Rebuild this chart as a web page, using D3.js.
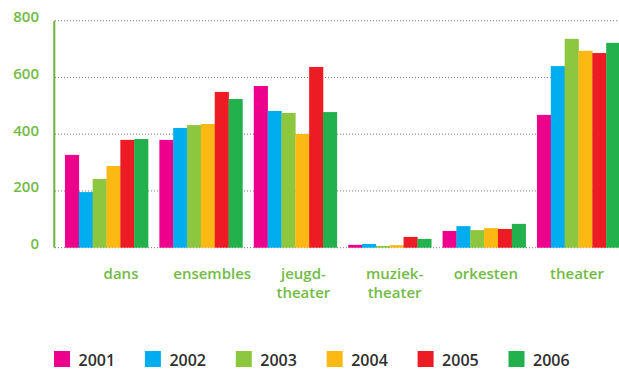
<!DOCTYPE html>
<html>
<head>
<meta charset="utf-8">
<script src="https://cdnjs.cloudflare.com/ajax/libs/d3/7.8.5/d3.min.js"></script>
<style>
  html, body { margin: 0; padding: 0; background: #fff; }
  svg { display: block; }
</style>
</head>
<body>
<svg id="chart" width="619" height="370"></svg>
<script>
// Disciplines and years
const categories = ["dans", "ensembles", "jeugdtheater", "muziektheater", "orkesten", "theater"];
const categoryLabels = [["dans"], ["ensembles"], ["jeugd-", "theater"], ["muziek-", "theater"], ["orkesten"], ["theater"]];
const years = ["2001", "2002", "2003", "2004", "2005", "2006"];

// Values per year, in category order
const v2001 = [327, 380, 570, 10, 59, 468];
const v2002 = [196, 422, 482, 13, 76, 640];
const v2003 = [242, 432, 475, 6, 62, 736];
const v2004 = [288, 436, 401, 9, 69, 694];
const v2005 = [380, 549, 637, 38, 66, 686];
const v2006 = [383, 524, 478, 31, 84, 722];
const seriesValues = [v2001, v2002, v2003, v2004, v2005, v2006];

const yTicks = [0, 200, 400, 600, 800];
const colors = ["#ec008c", "#00aeef", "#8dc63f", "#fdb913", "#ed1c24", "#22b14c"];

const green = "#72bb46";
const svg = d3.select("#chart");

const y = d3.scaleLinear().domain([0, 800]).range([247.7, 20.7]);
const x = d3.scaleBand().domain(categories).range([59.3, 625.7]).paddingInner(0.12).paddingOuter(0.06);
const xs = d3.scaleBand().domain(years).range([0, x.bandwidth()]);
const xLabel = d3.scalePoint().domain(categories).range([121, 577]);
const color = d3.scaleOrdinal().domain(years).range(colors);

// Dotted gridlines
svg.append("g").selectAll("line").data(yTicks).join("line")
  .attr("x1", 55).attr("x2", 619)
  .attr("y1", d => y(d)).attr("y2", d => y(d))
  .attr("stroke", "#7a7a7a").attr("stroke-width", 1)
  .attr("stroke-dasharray", "1,2");

// Y tick labels
svg.append("g").selectAll("text").data(yTicks).join("text")
  .attr("x", 39).attr("y", d => y(d) + 1.5)
  .attr("text-anchor", "end")
  .attr("font-family", "Open Sans, sans-serif")
  .attr("font-size", 15).attr("font-weight", 600)
  .attr("fill", green)
  .text(d => d);

// Y axis line
svg.append("line")
  .attr("x1", 54.3).attr("x2", 54.3)
  .attr("y1", y(800)).attr("y2", y(0))
  .attr("stroke", "#6db33f").attr("stroke-width", 2);

// Bars
const rows = [];
categories.forEach((c, ci) => years.forEach((yr, yi) => rows.push({ c, yr, v: seriesValues[yi][ci] })));
svg.append("g").selectAll("rect").data(rows).join("rect")
  .attr("x", d => x(d.c) + xs(d.yr))
  .attr("width", xs.bandwidth() + 0.3)
  .attr("y", d => y(d.v))
  .attr("height", d => y(0) - y(d.v))
  .attr("fill", d => color(d.yr));

// Category labels
const lab = svg.append("g").selectAll("text").data(categories).join("text")
  .attr("x", d => xLabel(d)).attr("y", 278.5)
  .attr("text-anchor", "middle")
  .attr("font-family", "Open Sans, sans-serif")
  .attr("font-size", 15).attr("font-weight", 600)
  .attr("fill", green);
lab.each(function(d, i) {
  d3.select(this).selectAll("tspan").data(categoryLabels[i]).join("tspan")
    .attr("x", xLabel(d)).attr("dy", (t, j) => j === 0 ? 0 : 19.5)
    .text(t => t);
});

// Legend
const legendX = d3.scalePoint().domain(years).range([54, 508.5]);
const lg = svg.append("g").selectAll("g").data(years).join("g")
  .attr("transform", d => `translate(${legendX(d)},351)`);
lg.append("rect").attr("width", 16).attr("height", 16).attr("fill", d => color(d));
lg.append("text").attr("x", 24.5).attr("y", 15)
  .attr("font-family", "Open Sans, sans-serif")
  .attr("font-size", 16).attr("font-weight", 600)
  .attr("fill", "#2e2e2e")
  .text(d => d);
</script>
</body>
</html>
